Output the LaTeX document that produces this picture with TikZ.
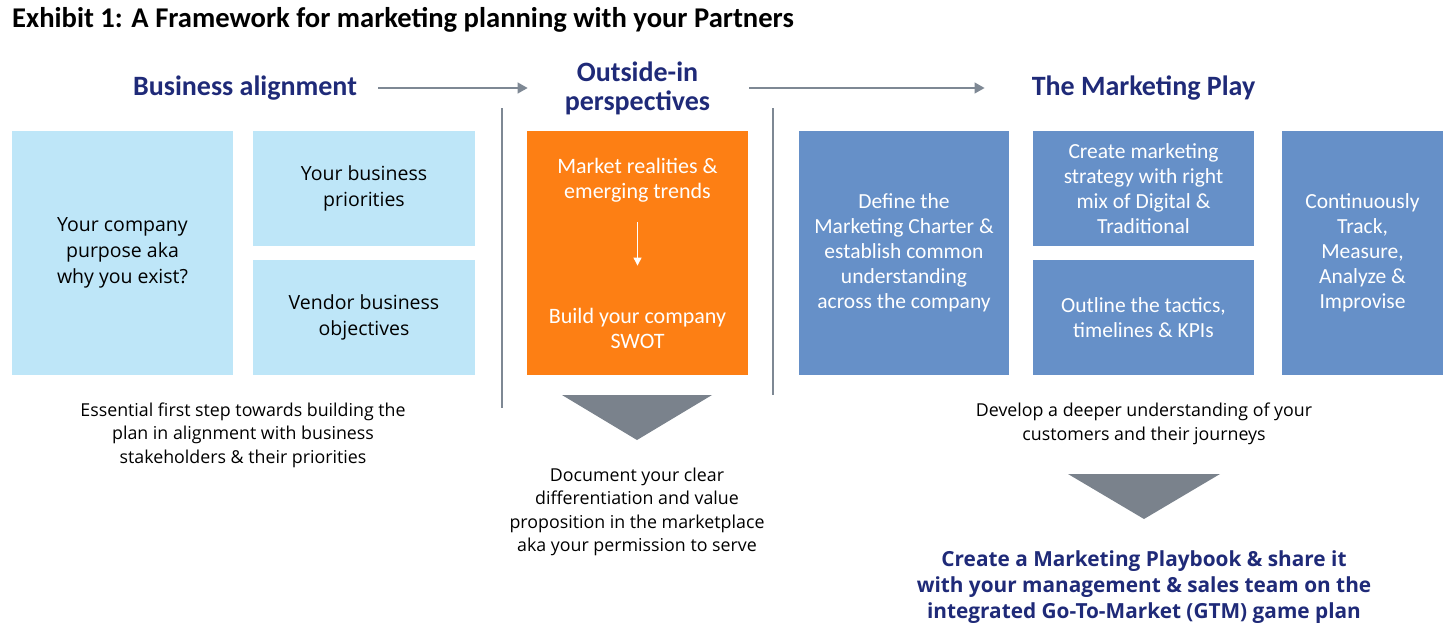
\documentclass[tikz,border=0pt]{standalone}
\usepackage{fontspec}
\setmainfont{Carlito}
\newfontfamily\capfont{Open Sans}
\usetikzlibrary{arrows.meta, positioning}
\definecolor{headblue}{HTML}{1F2A78}
\definecolor{skyfill}{HTML}{BEE6F8}
\definecolor{orangefill}{HTML}{FD7F14}
\definecolor{playfill}{HTML}{6690C8}
\definecolor{rulegray}{HTML}{7E8894}
\definecolor{trigray}{HTML}{7A828C}

\begin{document}
\begin{tikzpicture}[x=1pt,y=-1pt,
  head/.style={text=headblue,font=\fontsize{28}{29}\selectfont\bfseries,align=center,inner sep=0pt},
  sky/.style={rectangle,fill=skyfill,inner sep=0pt,align=center,font=\capfont\fontsize{19.5}{26}\selectfont},
  play/.style={rectangle,fill=playfill,inner sep=0pt,align=center,text=white,font=\fontsize{21.5}{25}\selectfont},
  inorange/.style={inner sep=0pt,align=center,text=white,font=\fontsize{22}{25}\selectfont},
  note/.style={inner sep=0pt,align=center,font=\capfont\fontsize{17.8}{23.5}\selectfont},
  flow/.style={-{Triangle[length=10pt,width=11pt]},draw=rulegray,line width=1.2pt},
  sep/.style={draw=rulegray,line width=1.2pt}
]
  \useasboundingbox (0,0) rectangle (1456,640);

  \node[anchor=base west,inner sep=0pt,font=\fontsize{28.6}{30}\selectfont\bfseries](title) at (12,27)
    {Exhibit 1: A Framework for marketing planning with your Partners};

  % column headings
  \node[head](ba) at (245,88)    {Business alignment};
  \node[head](oi) at (637.5,88)  {Outside-in\\perspectives};
  \node[head](mp) at (1143.5,88) {The Marketing Play};
  \draw[flow]([xshift=21pt]ba.east)--([xshift=-37pt]oi.west);
  \draw[flow]([xshift=39pt]oi.east)--([xshift=-47pt]mp.west);

  \draw[sep](502,108)--(502,408);
  \draw[sep](773,108)--(773,395);

  % business alignment
  \node[sky,minimum width=221,minimum height=244](purpose) at (122.5,253)  {Your company\\purpose aka\\why you exist?};
  \node[sky,minimum width=222,minimum height=115](prio)    at (364,188.5)  {Your business\\priorities};
  \node[sky,minimum width=222,minimum height=115](vendor)  at (364,317.5)  {Vendor business\\objectives};

  % outside-in
  \node[rectangle,fill=orangefill,minimum width=221,minimum height=244](swotbox) at (637.5,253) {};
  \node[inorange](mkt)  at (637.5,180) {Market realities \&\\emerging trends};
  \node[inorange](swot) at (637.5,328) {Build your company\\SWOT};
  \draw[-{Triangle[length=8pt,width=8pt]},white,line width=1pt,shorten <=20pt,shorten >=42pt](mkt)--(swot);

  % marketing play
  \node[play,minimum width=210,minimum height=244](charter) at (904,253)     {Define the\\Marketing Charter \&\\establish common\\understanding\\across the company};
  \node[play,minimum width=221,minimum height=115](strat)   at (1143.5,188.5) {Create marketing\\strategy with right\\mix of Digital \&\\Traditional};
  \node[play,minimum width=221,minimum height=115](tactic)  at (1143.5,317.5) {Outline the tactics,\\timelines \& KPIs};
  \node[play,minimum width=161,minimum height=244](track)   at (1362.5,253)   {Continuously\\Track,\\Measure,\\Analyze \&\\Improvise};

  % notes and pointers
  \node[note](noteba) at (243,435) {Essential first step towards building the\\plan in alignment with business\\stakeholders \& their priorities};
  \fill[trigray](562,395)--(712,395)--(637,440)--cycle;
  \node[note](noteoi) at (637,512) {Document your clear\\differentiation and value\\proposition in the marketplace\\aka your permission to serve};
  \node[note](notemp) at (1144,424) {Develop a deeper understanding of your\\customers and their journeys};
  \fill[trigray](1068,474)--(1220,474)--(1144,519)--cycle;
  \node[inner sep=0pt,align=center,text=headblue,font=\capfont\fontsize{20.8}{26}\selectfont\bfseries](book) at (1144,587)
    {Create a Marketing Playbook \& share it\\with your management \& sales team on the\\integrated Go-To-Market (GTM) game plan};
\end{tikzpicture}
\end{document}
